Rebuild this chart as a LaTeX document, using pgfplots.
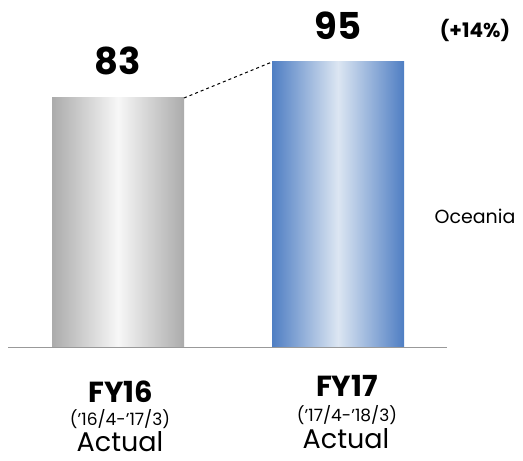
\documentclass[border=0pt]{standalone}
\usepackage{pgfplots}
\pgfplotsset{compat=1.18}
\usepackage{fontspec}
\setmainfont{Poppins}
\definecolor{barblue}{HTML}{4F7EC3}
\definecolor{barbluelight}{HTML}{DCE6F2}
\definecolor{bargray}{HTML}{ABABAB}
\definecolor{bargraylight}{HTML}{F7F7F7}
\begin{document}
\begin{tikzpicture}
\begin{axis}[
  scale only axis, width=523pt, height=461pt,
  xmin=0, xmax=523, ymin=-38, ymax=115.667,
  axis lines=none, clip=false,
  every node/.append style={inner sep=0pt},
]
% FY16 and FY17 sales (thousand units)
\addplot[ybar, bar width=132pt, bar shift=0pt, draw=none, left color=bargray, right color=bargray, middle color=bargraylight] coordinates {(118,83)};
\addplot[ybar, bar width=132pt, bar shift=0pt, draw=none, left color=barblue, right color=barblue, middle color=barbluelight] coordinates {(338,95)};
% connector between bar tops
\addplot[sharp plot, dashed, black, line width=1pt] coordinates {(184,83) (272,95)};
% baseline
\addplot[sharp plot, draw=gray!80, line width=0.8pt] coordinates {(8,0) (447,0)};
\node[font=\fontsize{37}{37}\selectfont\bfseries] at (axis cs:118,95.3) {83};
\node[font=\fontsize{37}{37}\selectfont\bfseries] at (axis cs:338,107) {95};
\node[font=\fontsize{20}{20}\selectfont\bfseries] at (axis cs:475,105.5) {(+14\%)};
\node[font=\fontsize{19}{19}\selectfont] at (axis cs:475,43.7) {Oceania};
\node[font=\fontsize{29}{29}\selectfont\bfseries] at (axis cs:121,-14.8) {FY16};
\node[font=\fontsize{17}{17}\selectfont] at (axis cs:120,-23.9) {('16/4-'17/3)};
\node[font=\fontsize{27}{27}\selectfont] at (axis cs:120,-31.6) {Actual};
\node[font=\fontsize{29}{29}\selectfont\bfseries] at (axis cs:347,-13.0) {FY17};
\node[font=\fontsize{17}{17}\selectfont] at (axis cs:347,-22.6) {('17/4-'18/3)};
\node[font=\fontsize{27}{27}\selectfont] at (axis cs:346,-30.6) {Actual};
\end{axis}
\pgfresetboundingbox
\path (current axis.south west) rectangle (current axis.north east);
\end{tikzpicture}
\end{document}
